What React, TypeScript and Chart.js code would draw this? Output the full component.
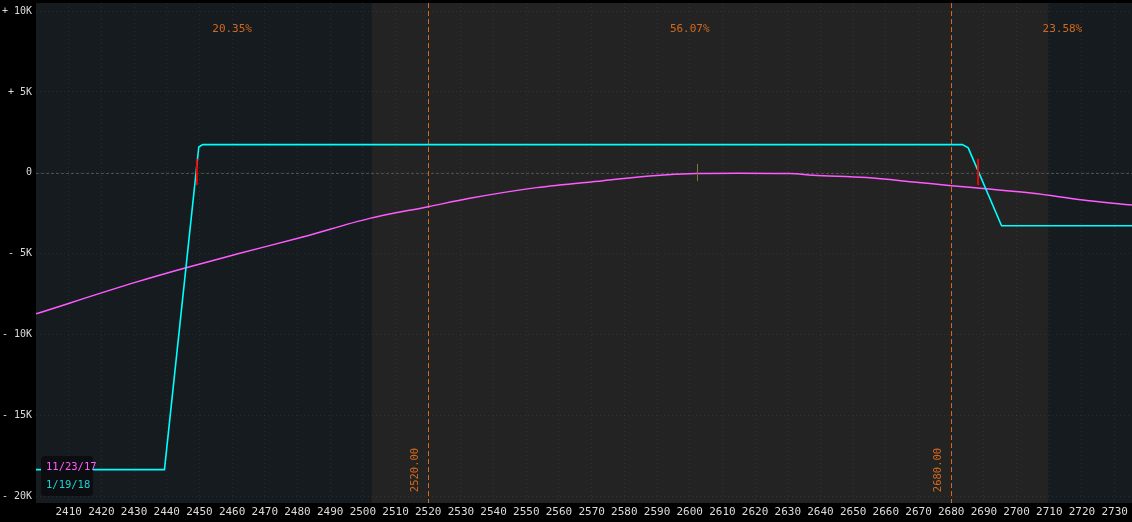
import React, { useEffect, useRef } from "react";
import { Chart, registerables } from "chart.js";

Chart.register(...registerables);

// Expiration (1/19/18) P/L curve
const expPrices = [2400, 2439.3, 2449.8, 2451, 2683.4, 2685.2, 2695.4, 2735.3];
const expPnl = [-18340, -18340, 1600, 1750, 1750, 1550, -3270, -3270];

// T+0 (11/23/17) P/L curve
const nowPrices = [2400, 2430.6, 2445.9, 2461.2, 2481.6, 2502.1, 2520, 2532.7, 2553.1, 2573.5, 2588.8, 2602, 2615, 2630.6, 2637.7, 2654, 2669.3, 2680, 2689.7, 2705, 2720.3, 2735.3];
const nowPnl = [-8710, -6750, -5860, -5030, -3960, -2810, -2090, -1570, -910, -480, -170, -40, -20, -40, -140, -290, -580, -790, -970, -1260, -1680, -1990];

const xTicks = [2410, 2420, 2430, 2440, 2450, 2460, 2470, 2480, 2490, 2500, 2510, 2520, 2530, 2540, 2550, 2560, 2570, 2580, 2590, 2600, 2610, 2620, 2630, 2640, 2650, 2660, 2670, 2680, 2690, 2700, 2710, 2720, 2730];
const yTicks = [-20000, -15000, -10000, -5000, 0, 5000, 10000];

const strikeLines = [2520, 2680];
const strikeLabels = ["2520.00", "2680.00"];
const zoneEdges = [2502.75, 2709.6];
const zonePercents = ["20.35%", "56.07%", "23.58%"];
const zonePercentX = [2460, 2600, 2714];
const breakEvens = [2449.2, 2688.2];
const currentPrice = 2602.2;
const legendLabels = ["11/23/17", "1/19/18"];

const MAGENTA = "#ff5cff";
const CYAN = "#00ffff";
const ORANGE = "#d2691e";

export default function App() {
  const ref = useRef<HTMLCanvasElement | null>(null);

  useEffect(() => {
    const canvas = ref.current;
    if (!canvas) return;

    const overlay = {
      id: "overlay",
      beforeDraw(chart: any) {
        const { ctx, chartArea: a, scales } = chart;
        const x = scales.x;
        ctx.save();
        ctx.fillStyle = "#000";
        ctx.fillRect(0, 0, chart.width, chart.height);
        ctx.fillStyle = "#161b1f";
        ctx.fillRect(a.left, a.top, a.right - a.left, a.bottom - a.top);
        const x0 = x.getPixelForValue(zoneEdges[0]);
        const x1 = x.getPixelForValue(zoneEdges[1]);
        ctx.fillStyle = "#232323";
        ctx.fillRect(x0, a.top, x1 - x0, a.bottom - a.top);
        ctx.restore();
      },
      beforeDatasetsDraw(chart: any) {
        const { ctx, chartArea: a, scales } = chart;
        const x = scales.x;
        const y = scales.y;
        ctx.save();
        // zero line
        ctx.strokeStyle = "#4d4d4d";
        ctx.lineWidth = 1;
        ctx.setLineDash([3, 2]);
        const y0 = Math.round(y.getPixelForValue(0)) + 0.5;
        ctx.beginPath();
        ctx.moveTo(a.left, y0);
        ctx.lineTo(a.right, y0);
        ctx.stroke();
        // strike lines
        ctx.strokeStyle = ORANGE;
        ctx.setLineDash([5, 3]);
        strikeLines.forEach((s) => {
          const px = Math.round(x.getPixelForValue(s)) + 0.5;
          ctx.beginPath();
          ctx.moveTo(px, a.top);
          ctx.lineTo(px, a.bottom);
          ctx.stroke();
        });
        ctx.setLineDash([]);
        ctx.fillStyle = ORANGE;
        ctx.font = "10.5px 'DejaVu Sans Mono'";
        ctx.textAlign = "center";
        ctx.textBaseline = "middle";
        strikeLines.forEach((s, i) => {
          const px = x.getPixelForValue(s) - 13;
          ctx.save();
          ctx.translate(px, 470);
          ctx.rotate(-Math.PI / 2);
          ctx.fillText(strikeLabels[i], 0, 0);
          ctx.restore();
        });
        // zone percents
        ctx.font = "11px 'DejaVu Sans Mono'";
        zonePercents.forEach((t, i) => {
          ctx.fillText(t, x.getPixelForValue(zonePercentX[i]), 29);
        });
        ctx.restore();
      },
      afterDatasetsDraw(chart: any) {
        const { ctx, scales } = chart;
        const x = scales.x;
        const y = scales.y;
        ctx.save();
        // break-even markers
        ctx.strokeStyle = "#ff0000";
        ctx.lineWidth = 1.8;
        breakEvens.forEach((b) => {
          const px = x.getPixelForValue(b);
          ctx.beginPath();
          ctx.moveTo(px, y.getPixelForValue(870));
          ctx.lineTo(px, y.getPixelForValue(-750));
          ctx.stroke();
        });
        // current price marker
        ctx.strokeStyle = "#8a7242";
        ctx.lineWidth = 1;
        const cp = Math.round(x.getPixelForValue(currentPrice)) + 0.5;
        ctx.beginPath();
        ctx.moveTo(cp, y.getPixelForValue(560));
        ctx.lineTo(cp, y.getPixelForValue(-500));
        ctx.stroke();
        // legend box
        const bx = 41, by = 456, bw = 52, bh = 40, r = 4;
        ctx.fillStyle = "#0b0d10";
        ctx.beginPath();
        ctx.moveTo(bx + r, by);
        ctx.lineTo(bx + bw - r, by);
        ctx.quadraticCurveTo(bx + bw, by, bx + bw, by + r);
        ctx.lineTo(bx + bw, by + bh - r);
        ctx.quadraticCurveTo(bx + bw, by + bh, bx + bw - r, by + bh);
        ctx.lineTo(bx + r, by + bh);
        ctx.quadraticCurveTo(bx, by + bh, bx, by + bh - r);
        ctx.lineTo(bx, by + r);
        ctx.quadraticCurveTo(bx, by, bx + r, by);
        ctx.fill();
        ctx.font = "10.5px 'DejaVu Sans Mono'";
        ctx.textAlign = "left";
        ctx.textBaseline = "middle";
        ctx.fillStyle = MAGENTA;
        ctx.fillText(legendLabels[0], 46, 467);
        ctx.fillStyle = "#19d3d3";
        ctx.fillText(legendLabels[1], 46, 485);
        ctx.restore();
      },
    };

    const xFont = { family: "'DejaVu Sans Mono'", size: 11 };
    const yFont = { family: "'DejaVu Sans Mono'", size: 10 };

    const chart = new Chart(canvas, {
      type: "line",
      data: {
        datasets: [
          {
            label: legendLabels[1],
            data: expPrices.map((p, i) => ({ x: p, y: expPnl[i] })),
            borderColor: CYAN,
            borderWidth: 1.6,
            pointRadius: 0,
            tension: 0,
            fill: false,
          },
          {
            label: legendLabels[0],
            data: nowPrices.map((p, i) => ({ x: p, y: nowPnl[i] })),
            borderColor: MAGENTA,
            borderWidth: 1.5,
            pointRadius: 0,
            cubicInterpolationMode: "monotone",
            fill: false,
          },
        ],
      },
      options: {
        animation: false,
        responsive: false,
        maintainAspectRatio: false,
        layout: { padding: { top: 3, left: 0, right: 0, bottom: 0 } },
        plugins: { legend: { display: false }, tooltip: { enabled: false } },
        scales: {
          x: {
            type: "linear",
            min: 2400,
            max: 2735.3,
            afterBuildTicks: (s: any) => {
              s.ticks = xTicks.map((v) => ({ value: v }));
            },
            afterFit: (s: any) => {
              s.height = 19;
              s.paddingLeft = 0;
              s.paddingRight = 0;
            },
            ticks: {
              color: "#dcdcdc",
              font: xFont,
              padding: 3,
              maxRotation: 0,
              autoSkip: false,
              callback: (v: any) => String(v),
            },
            grid: { color: "rgba(255,255,255,0.07)", drawTicks: false, tickLength: 0 },
            border: { display: false, dash: [1, 3] },
          },
          y: {
            type: "linear",
            min: -20400,
            max: 10500,
            afterBuildTicks: (s: any) => {
              s.ticks = yTicks.map((v) => ({ value: v }));
            },
            afterFit: (s: any) => {
              s.width = 36;
              s.paddingTop = 0;
              s.paddingBottom = 0;
            },
            ticks: {
              color: "#dcdcdc",
              font: yFont,
              padding: 4,
              callback: (v: any) => {
                const n = Number(v);
                if (n === 0) return "0";
                const k = Math.abs(n) / 1000 + "K";
                return n > 0 ? "+ " + k : "- " + k;
              },
            },
            grid: { color: "rgba(255,255,255,0.07)", drawTicks: false, tickLength: 0 },
            border: { display: false, dash: [1, 3] },
          },
        },
      },
      plugins: [overlay],
    } as any);

    return () => chart.destroy();
  }, []);

  return (
    <div style={{ position: "fixed", left: 0, top: 0, width: 1132, height: 522, background: "#000" }}>
      <canvas ref={ref} width={1132} height={522} style={{ display: "block" }} />
    </div>
  );
}
